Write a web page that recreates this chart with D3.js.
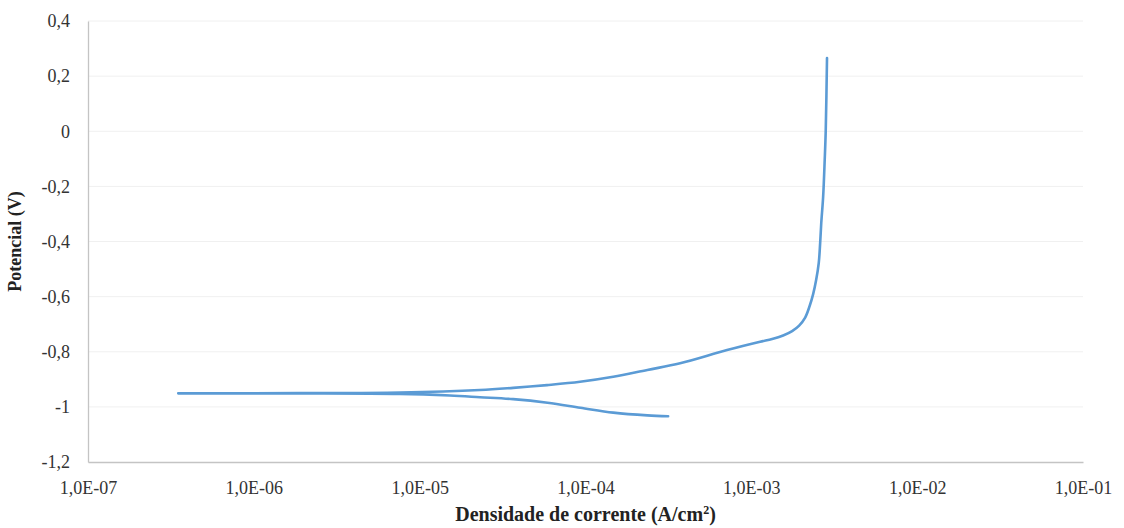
<!DOCTYPE html>
<html>
<head>
<meta charset="utf-8">
<script src="https://cdn.jsdelivr.net/npm/d3@7"></script>
<style>
  body { margin: 0; background: #fff; }
  svg { display: block; font-family: "Liberation Serif", "DejaVu Serif", serif; }
</style>
</head>
<body>
<svg id="chart" width="1124" height="528"></svg>
<script>
// Polarization scan, cathodic end -> corrosion point -> anodic end
var currentDensity = [
  3.15e-4, 2.36e-4, 1.47e-4, 9.3e-5, 5.9e-5, 3.66e-5, 2.31e-5, 1.52e-5, 7.6e-6, 1.9e-6,
  3.5e-7,
  1.9e-6, 7.6e-6, 2.31e-5, 3.66e-5, 5.86e-5, 9.27e-5, 1.47e-4, 2.36e-4, 3.72e-4,
  7.14e-4, 1.13e-3, 1.335e-3, 1.555e-3, 1.762e-3, 1.942e-3, 2.111e-3, 2.247e-3, 2.359e-3,
  2.459e-3, 2.55e-3, 2.6e-3, 2.64e-3, 2.71e-3, 2.77e-3, 2.81e-3, 2.86e-3
];
var potential = [
  -1.034, -1.031, -1.021, -1.003, -0.985, -0.972, -0.965, -0.959, -0.953, -0.951,
  -0.951,
  -0.950, -0.948, -0.939, -0.931, -0.921, -0.909, -0.891, -0.866, -0.842,
  -0.794, -0.764, -0.754, -0.741, -0.725, -0.705, -0.676, -0.634, -0.591,
  -0.540, -0.478, -0.406, -0.333, -0.238, -0.104, 0.004, 0.266
];
var yTicks = [-1.2, -1, -0.8, -0.6, -0.4, -0.2, 0, 0.2, 0.4];
var xTicks = [1e-7, 1e-6, 1e-5, 1e-4, 1e-3, 1e-2, 1e-1];
var xTickLabels = ["1,0E-07", "1,0E-06", "1,0E-05", "1,0E-04", "1,0E-03", "1,0E-02", "1,0E-01"];

var margin = { top: 21, right: 41, bottom: 66, left: 88 },
    width = 1124 - margin.left - margin.right,
    height = 528 - margin.top - margin.bottom;

var xScale = d3.scaleLog().domain([1e-7, 1e-1]).range([0, width]);
var yScale = d3.scaleLinear().domain([-1.2, 0.4]).range([height, 0]);

var svg = d3.select("#chart")
  .append("g")
  .attr("transform", "translate(" + margin.left + "," + margin.top + ")");

// horizontal gridlines
svg.append("g")
  .selectAll("line")
  .data(yTicks.filter(function (d) { return d > -1.2; }))
  .enter()
  .append("line")
  .attr("x1", 0)
  .attr("x2", width)
  .attr("y1", function (d) { return yScale(d); })
  .attr("y2", function (d) { return yScale(d); })
  .attr("stroke", "#f0f0f0")
  .attr("stroke-width", 1);

// y axis
var yAxis = d3.axisLeft(yScale)
  .tickValues(yTicks)
  .tickSize(0)
  .tickPadding(18)
  .tickFormat(function (d) { return String(+d.toFixed(1)).replace(".", ","); });
var gy = svg.append("g").call(yAxis);
gy.select(".domain").attr("stroke", "#c4c4c4").attr("stroke-width", 1.3);
gy.selectAll("text").attr("font-size", 18).attr("fill", "#333")
  .attr("font-family", "Liberation Serif");

// x axis
var xAxis = d3.axisBottom(xScale)
  .tickValues(xTicks)
  .tickSize(0)
  .tickPadding(19)
  .tickFormat(function (d, i) { return xTickLabels[i]; });
var gx = svg.append("g").attr("transform", "translate(0," + height + ")").call(xAxis);
gx.select(".domain").attr("stroke", "#c4c4c4").attr("stroke-width", 1.6);
gx.selectAll("text").attr("font-size", 18).attr("fill", "#333")
  .attr("font-family", "Liberation Serif");

// curve
var line = d3.line()
  .curve(d3.curveCatmullRom.alpha(0.5))
  .x(function (d) { return xScale(d[0]); })
  .y(function (d) { return yScale(d[1]); });
var pts = currentDensity.map(function (c, i) { return [c, potential[i]]; });
svg.append("path")
  .attr("d", line(pts))
  .attr("fill", "none")
  .attr("stroke", "#5b9bd5")
  .attr("stroke-width", 2.6)
  .attr("stroke-linecap", "round")
  .attr("stroke-linejoin", "round");

// titles
svg.append("text")
  .attr("x", width / 2)
  .attr("y", height + 59)
  .attr("text-anchor", "middle")
  .attr("font-size", 20)
  .attr("font-weight", "bold")
  .attr("fill", "#222")
  .html("Densidade de corrente (A/cm<tspan baseline-shift='super' font-size='12'>2</tspan>)");

svg.append("text")
  .attr("transform", "translate(" + (-67) + "," + (height / 2) + ") rotate(-90)")
  .attr("text-anchor", "middle")
  .attr("font-size", 18)
  .attr("font-weight", "bold")
  .attr("fill", "#222")
  .text("Potencial (V)");
</script>
</body>
</html>
